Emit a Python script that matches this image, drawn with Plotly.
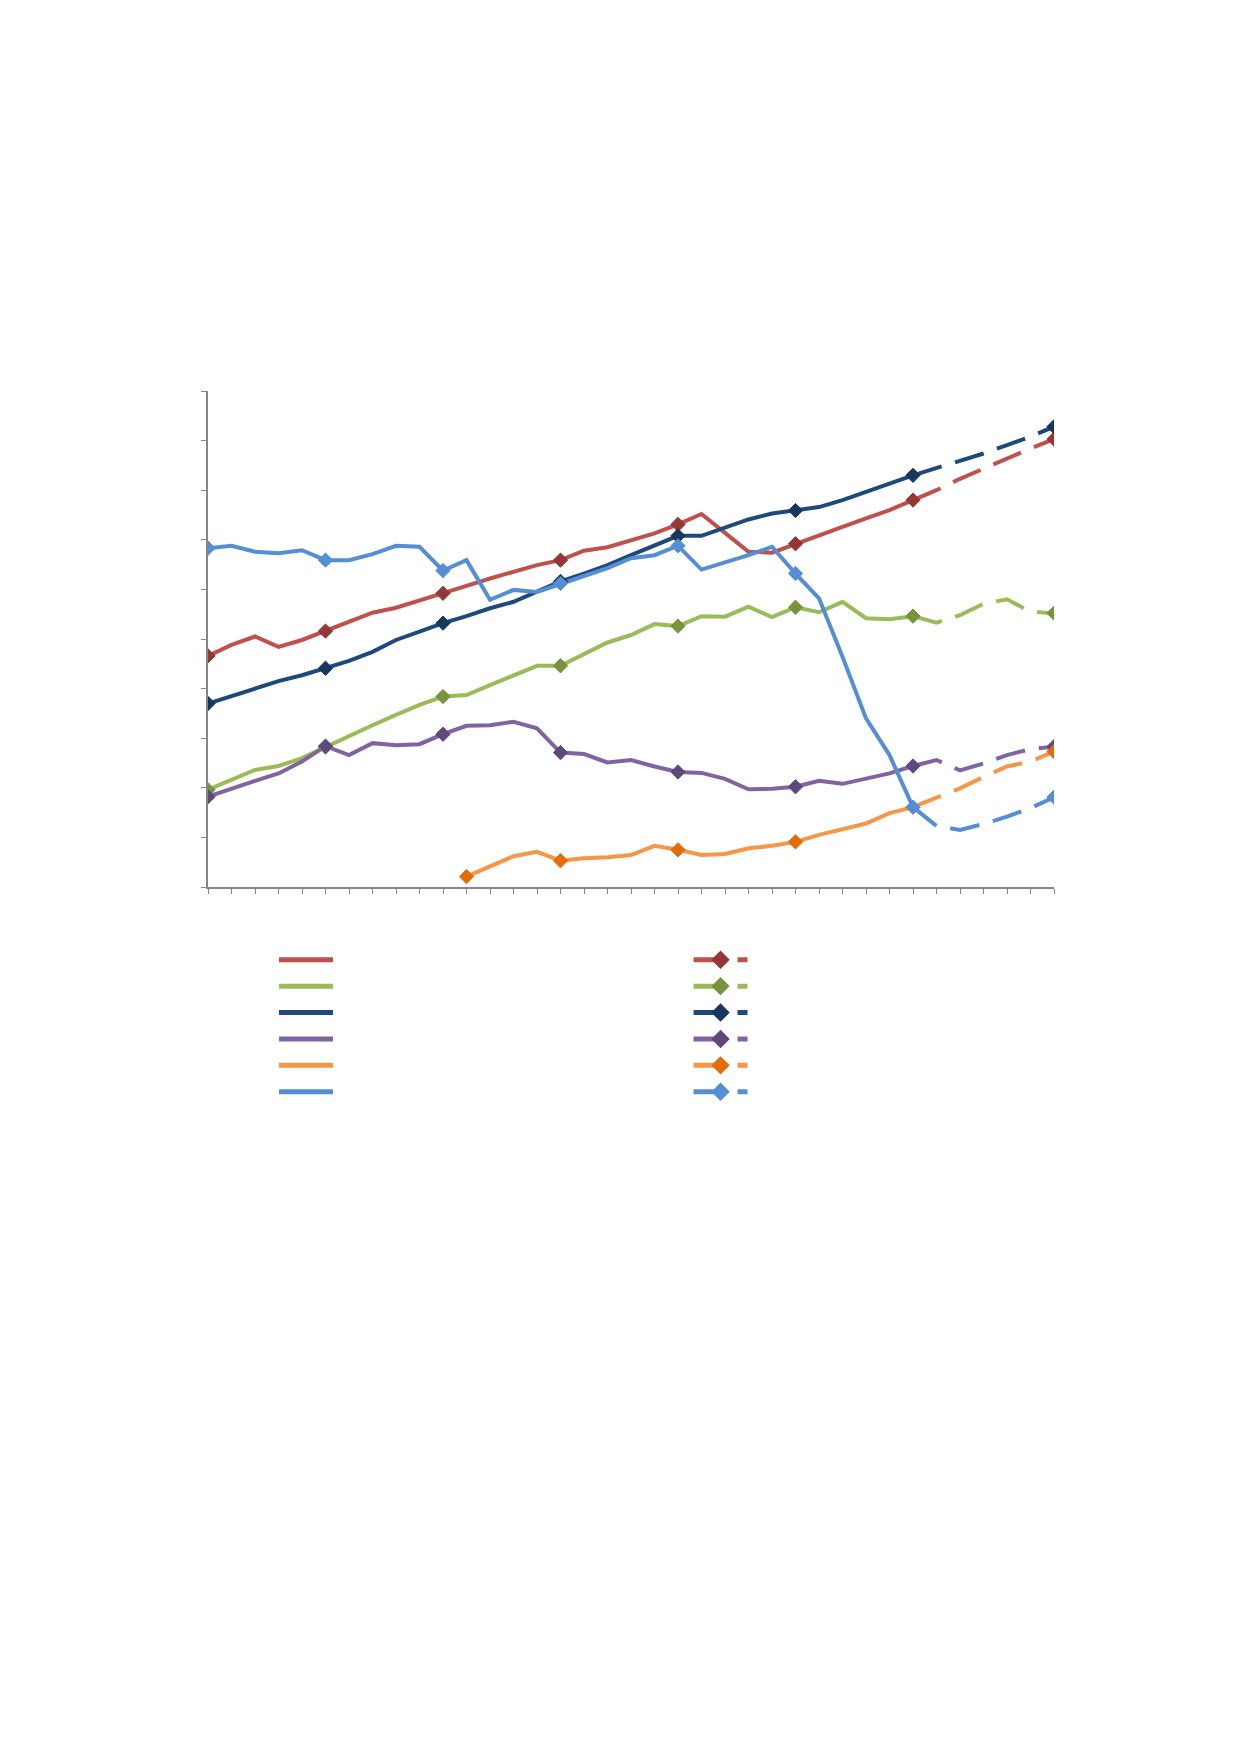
import plotly.graph_objects as go

# x positions 0..36, solid history runs to 30, dashed projection 30..36
periods = list(range(37))

red = [46.6, 48.8, 50.5, 48.4, 49.8, 51.6, 53.5, 55.3, 56.3, 57.7, 59.2, 60.7, 62.2, 63.6, 64.9, 65.9,
       67.8, 68.5, 69.8, 71.3, 73.1, 75.2, 71.4, 67.6, 67.4, 69.2, 71.0, 72.6, 74.3, 76.0, 78.0]
red_proj = [78.0, 80.0, 82.3, 84.4, 86.4, 88.4, 90.3]

green = [19.6, 21.6, 23.6, 24.4, 26.0, 28.2, 30.5, 32.6, 34.7, 36.7, 38.4, 38.7, 40.7, 42.7, 44.6, 44.6,
         47.0, 49.3, 50.8, 53.0, 52.6, 54.6, 54.5, 56.5, 54.4, 56.4, 55.4, 57.5, 54.2, 54.0, 54.6]
green_proj = [54.6, 53.3, 54.8, 57.1, 58.0, 55.5, 55.2]

navy = [37.0, 38.5, 40.1, 41.5, 42.7, 44.1, 45.6, 47.4, 49.8, 51.5, 53.2, 54.6, 56.2, 57.5, 59.5, 61.6,
        63.2, 64.9, 66.9, 68.8, 70.8, 70.8, 72.5, 74.1, 75.3, 75.9, 76.6, 78.0, 79.7, 81.4, 83.0]
navy_proj = [83.0, 84.4, 85.9, 87.4, 89.1, 90.8, 92.8]

purple = [18.2, 19.9, 21.4, 22.9, 25.3, 28.4, 26.6, 29.0, 28.6, 28.8, 30.8, 32.5, 32.6, 33.3, 32.0, 27.1,
          26.8, 25.1, 25.6, 24.3, 23.2, 23.0, 21.8, 19.7, 19.8, 20.2, 21.4, 20.8, 21.8, 22.9, 24.4]
purple_proj = [24.4, 25.6, 23.5, 24.9, 26.6, 27.8, 28.3]

# orange series starts at period 11
orange = [None] * 11 + [2.1, 4.1, 6.2, 7.1, 5.3, 5.8, 6.0, 6.45, 8.3, 7.5, 6.45, 6.65, 7.8, 8.3, 9.1,
                        10.5, 11.6, 12.8, 14.9, 16.1]
orange_proj = [16.1, 17.9, 19.9, 22.2, 24.3, 25.3, 27.3]

lightblue = [68.3, 68.8, 67.6, 67.3, 67.9, 65.9, 65.9, 67.1, 68.8, 68.6, 63.8, 65.9, 57.9, 59.9, 59.5, 61.2,
             62.7, 64.3, 66.3, 66.9, 68.8, 64.0, 65.4, 66.9, 68.6, 63.2, 58.2, 46.4, 34.0, 26.6, 16.1]
lightblue_proj = [16.1, 12.3, 11.5, 12.7, 14.2, 15.9, 18.1]

marks = [0, 5, 10, 15, 20, 25, 30, 36]
orange_marks = [11, 15, 20, 25, 30, 36]

series = [
    (red, red_proj, marks, '#C0504D', '#953735'),
    (green, green_proj, marks, '#9BBB59', '#77933C'),
    (navy, navy_proj, marks, '#1F497D', '#17375E'),
    (purple, purple_proj, marks, '#8064A2', '#5F497A'),
    (orange, orange_proj, orange_marks, '#F79646', '#E46C0A'),
    (lightblue, lightblue_proj, marks, '#558ED5', '#558ED5'),
]

fig = go.Figure()

for hist, proj, mk, col, mcol in series:
    fig.add_trace(go.Scatter(
        x=periods[:31], y=hist, mode='lines', name=' ',
        line=dict(color=col, width=4), legend='legend'
    ))

for hist, proj, mk, col, mcol in series:
    yy = [hist[i] if i in mk else None for i in range(31)] + proj[1:]
    sizes = [11 if i in mk else 0 for i in periods]
    fig.add_trace(go.Scatter(
        x=periods, y=yy, mode='lines+markers', name=' ',
        line=dict(color=col, width=4, dash='30px,14px'),
        marker=dict(symbol='diamond', size=sizes, color=mcol, opacity=1,
                    line=dict(color=mcol, width=1)),
        connectgaps=False, legend='legend2'
    ))

axis_col = '#868686'
fig.update_xaxes(range=[0, 36], tickmode='linear', tick0=0, dtick=1, ticks='outside', ticklen=5,
                 tickcolor=axis_col, showticklabels=False, showgrid=False, zeroline=False,
                 showline=True, linecolor=axis_col, linewidth=1.5)
fig.update_yaxes(range=[0, 100], tickmode='linear', tick0=0, dtick=10, ticks='outside', ticklen=5,
                 tickcolor=axis_col, showticklabels=False, showgrid=False, zeroline=False,
                 showline=True, linecolor=axis_col, linewidth=1.5)

legend_style = dict(font=dict(size=18), itemwidth=54, itemsizing='constant',
                    bgcolor='rgba(0,0,0,0)', xanchor='left', yanchor='top')

fig.update_layout(
    width=1241, height=1754, autosize=False,
    margin=dict(l=200, r=195, t=383, b=875),
    paper_bgcolor='white', plot_bgcolor='white',
    showlegend=True,
    legend=dict(x=0.078, y=-0.110, **legend_style),
    legend2=dict(x=0.568, y=-0.110, **legend_style),
)

fig.write_html("out.html")
